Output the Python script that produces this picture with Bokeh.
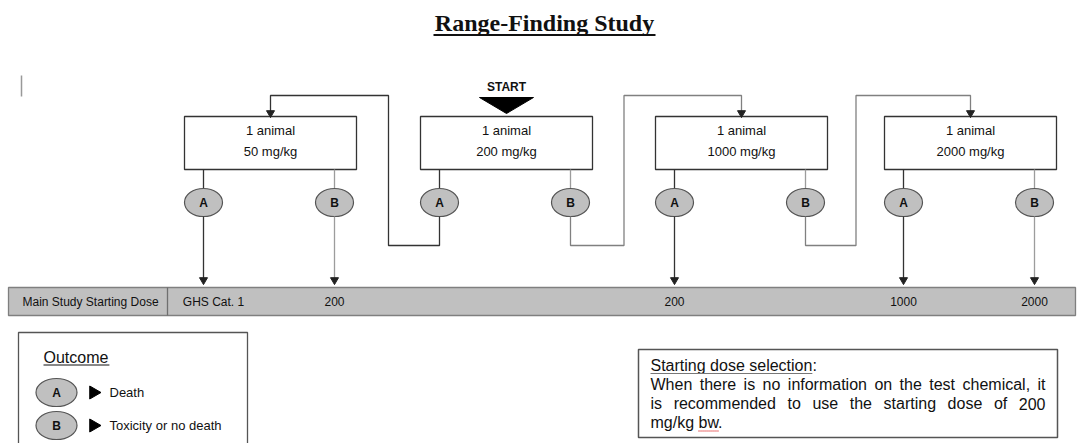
from bokeh.plotting import figure
from bokeh.models import Range1d
from bokeh.embed import file_html
from bokeh.resources import INLINE
from bokeh.core.properties import value

# ---------------- data ----------------
title_text = "Range-Finding Study"
doses = [50, 200, 1000, 2000]
animals = [1, 1, 1, 1]
outcomes = ["A", "B"]
outcome_meaning = ["Death", "Toxicity or no death"]
start_index = 1
bar_title = "Main Study Starting Dose"
bar_routes = [(0, "A"), (0, "B"), (2, "A"), (3, "A"), (3, "B")]
bar_labels = ["GHS Cat. 1", "200", "200", "1000", "2000"]
next_routes = [(1, "A", 0), (1, "B", 2), (2, "B", 3)]
legend_title = "Outcome"
note_title = "Starting dose selection"
note_lines = ["When there is no information on the test chemical, it",
              "is recommended to use the starting dose of 200",
              "mg/kg bw."]

# ---------------- layout ----------------
W, H = 1083, 443
X0, Y0 = 0, 0
FONT = value("Liberation Sans")
DARK = "#333333"
MID = "#808080"
LIGHT = "#9c9c9c"
GRAY_FILL = "#c0c0c0"

# Arial / Liberation Sans advance widths (per em)
AW = {' ': .278, ',': .278, '.': .278, ':': .278, '/': .278,
      'a': .556, 'b': .556, 'c': .5, 'd': .556, 'e': .556, 'f': .278, 'g': .556,
      'h': .556, 'i': .222, 'k': .5, 'l': .222, 'm': .833, 'n': .556, 'o': .556,
      'p': .556, 'r': .333, 's': .5, 't': .278, 'u': .556, 'w': .722, 'x': .5,
      'y': .5, 'W': .944, 'S': .667, 'O': .778}
for d in "0123456789":
    AW[d] = .556


def tw(s, size):
    return sum(AW.get(c, .556) for c in s) * size


p = figure(width=W, height=H, x_range=Range1d(X0, X0 + W), y_range=Range1d(Y0 + H, Y0),
           output_backend="svg", toolbar_location=None, min_border=0,
           x_axis_type=None, y_axis_type=None, title=None)
p.grid.visible = False
p.outline_line_color = None
p.background_fill_color = "white"
p.border_fill_color = "white"

# title
p.text(x=[544], y=[22], text=[title_text], text_font=value("Liberation Serif"),
       text_font_style="bold", text_font_size="24px", text_align="center",
       text_baseline="middle", text_color="#111111")
p.segment(x0=[433], y0=[34.5], x1=[655], y1=[34.5], line_color="#111111", line_width=2)

# cursor artefact
p.segment(x0=[21], y0=[75], x1=[21], y1=[96], line_color="#999999", line_width=1.5)

# dose boxes
box_left = [184, 420, 655, 884]
BOX_W, BOX_TOP, BOX_BOT = 172, 116, 169
box_cx = [l + BOX_W / 2 for l in box_left]
p.quad(left=box_left, right=[l + BOX_W for l in box_left], top=BOX_TOP, bottom=BOX_BOT,
       fill_color="white", line_color=DARK, line_width=1.3)
p.text(x=box_cx, y=[130] * 4, text=[f"{a} animal" for a in animals], text_font=FONT,
       text_font_size="13px", text_align="center", text_baseline="middle", text_color="#111111")
p.text(x=box_cx, y=[151] * 4, text=[f"{d} mg/kg" for d in doses], text_font=FONT,
       text_font_size="13px", text_align="center", text_baseline="middle", text_color="#111111")

# outcome ellipses
EY, EW, EH = 202, 38, 28
off = {"A": 19, "B": 150}
col = {"A": DARK, "B": LIGHT}


def ox(i, o):
    return box_left[i] + off[o]


ex, ey, et, ec = [], [], [], []
for i in range(len(doses)):
    for o in outcomes:
        ex.append(ox(i, o)); ey.append(EY); et.append(o); ec.append(col[o])
p.segment(x0=ex, y0=[BOX_BOT] * len(ex), x1=ex, y1=[EY - EH / 2] * len(ex), line_color=ec, line_width=1.3)
p.ellipse(x=ex, y=ey, width=EW, height=EH, fill_color=GRAY_FILL, line_color="#555555", line_width=1.2)
p.text(x=ex, y=ey, text=et, text_font=FONT, text_font_style="bold", text_font_size="12px",
       text_align="center", text_baseline="middle", text_color="#111111")

# START marker
sc = box_cx[start_index]
p.text(x=[sc], y=[86], text=["START"], text_font=FONT, text_font_style="bold",
       text_font_size="12px", text_align="center", text_baseline="middle", text_color="#111111")
p.patch(x=[sc - 27, sc + 27, sc], y=[97, 97, 113], fill_color="black", line_color="black")

# main study bar
BAR_TOP, BAR_BOT = 287, 315
p.quad(left=[8], right=[1075], top=[BAR_TOP], bottom=[BAR_BOT], fill_color=GRAY_FILL,
       line_color="#7f7f7f", line_width=1.3)
p.segment(x0=[167], y0=[BAR_TOP], x1=[167], y1=[BAR_BOT], line_color="#6f6f6f", line_width=1.3)
p.text(x=[22], y=[301], text=[bar_title], text_font=FONT, text_font_size="12px",
       text_align="left", text_baseline="middle", text_color="#111111")

lab_shift = [10, 0, 0, 0, 0]
rx = [ox(i, o) for i, o in bar_routes]
rc = [col[o] for i, o in bar_routes]
p.segment(x0=rx, y0=[EY + EH / 2] * len(rx), x1=rx, y1=[281] * len(rx), line_color=rc, line_width=1.3)
p.scatter(x=rx, y=[279.5] * len(rx), marker="inverted_triangle", size=8, fill_color="#222222",
          line_color="#222222")
p.text(x=[x + s for x, s in zip(rx, lab_shift)], y=[301] * len(rx), text=bar_labels, text_font=FONT,
       text_font_size="12px", text_align="center", text_baseline="middle", text_color="#111111")

# next-step connectors
LOW_Y, TOP_Y = 245, 95
xs, ys, cs = [], [], []
for src, o, dst in next_routes:
    sx = ox(src, o)
    a, b = sorted([src, dst])
    vx = (box_left[a] + BOX_W + box_left[b]) / 2
    tx = box_cx[dst]
    xs.append([sx, sx, vx, vx, tx, tx])
    ys.append([EY + EH / 2, LOW_Y, LOW_Y, TOP_Y, TOP_Y, BOX_TOP - 4])
    cs.append(DARK if o == "A" else MID)
p.multi_line(xs=xs, ys=ys, line_color=cs, line_width=1.3)
p.scatter(x=[box_cx[d] for _, _, d in next_routes], y=[112.5] * len(next_routes),
          marker="inverted_triangle", size=8, fill_color="#222222", line_color="#222222")

# legend box
p.quad(left=[18], right=[247], top=[332], bottom=[460], fill_color="white",
       line_color="#555555", line_width=1.3)
p.text(x=[43], y=[357], text=[legend_title], text_font=FONT, text_font_size="16px",
       text_align="left", text_baseline="middle", text_color="#111111")
p.segment(x0=[43], y0=[364.5], x1=[43 + tw(legend_title, 16) + 1], y1=[364.5],
          line_color="#111111", line_width=1)
ly = [392, 425]
p.ellipse(x=[56] * 2, y=ly, width=41, height=28, fill_color=GRAY_FILL, line_color="#555555", line_width=1.2)
p.text(x=[56] * 2, y=ly, text=outcomes, text_font=FONT, text_font_style="bold", text_font_size="12px",
       text_align="center", text_baseline="middle", text_color="#111111")
p.scatter(x=[93] * 2, y=ly, marker="triangle", angle=-1.5708, size=13, fill_color="black",
          line_color="black")
p.text(x=[109] * 2, y=ly, text=outcome_meaning, text_font=FONT, text_font_size="13px",
       text_align="left", text_baseline="middle", text_color="#111111")

# note box
NL, NR, NT, NB = 638, 1057, 349, 437
p.quad(left=[NL], right=[NR], top=[NT], bottom=[NB], fill_color="white", line_color="#555555",
       line_width=1.5)
TX, TR, FS = 650, 1045, 16
p.text(x=[TX], y=[365], text=[note_title + ":"], text_font=FONT, text_font_size=f"{FS}px",
       text_align="left", text_baseline="middle", text_color="#111111")
p.segment(x0=[TX], y0=[373], x1=[TX + tw(note_title, FS)], y1=[373], line_color="#777777", line_width=1)

wx, wy, wt = [], [], []
line_y = [384, 403, 422]
for k, (line, yy) in enumerate(zip(note_lines, line_y)):
    words = line.split()
    widths = [tw(w, FS) for w in words]
    last = k == len(note_lines) - 1
    gap = tw(" ", FS) if last else (TR - TX - sum(widths)) / (len(words) - 1)
    x = TX
    for w, ww in zip(words, widths):
        wx.append(x); wy.append(yy); wt.append(w)
        x += ww + gap
p.text(x=wx, y=wy, text=wt, text_font=FONT, text_font_size=f"{FS}px", text_align="left",
       text_baseline="middle", text_color="#111111")
# spell-check squiggle under "bw"
bx = TX + tw(note_lines[-1].split()[0] + " ", FS)
p.segment(x0=[bx], y0=[430.5], x1=[bx + tw("bw", FS)], y1=[430.5], line_color="#e04040",
          line_width=1.5, line_dash="1 1")

open("out.html", "w").write(file_html(p, INLINE))
